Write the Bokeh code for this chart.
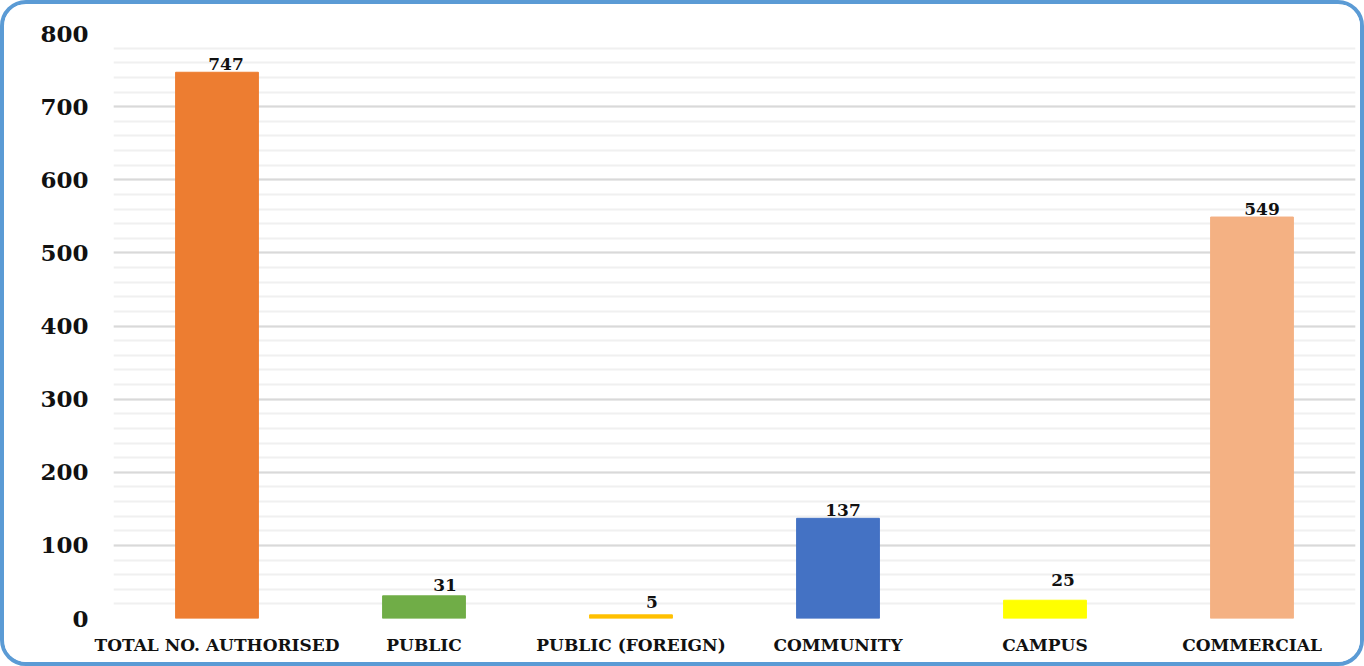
from bokeh.plotting import figure
from bokeh.models import ColumnDataSource, FactorRange, SingleIntervalTicker, Range1d
from bokeh.core.properties import value
from bokeh.embed import file_html
from bokeh.resources import INLINE

categories = ["TOTAL NO. AUTHORISED", "PUBLIC", "PUBLIC (FOREIGN)", "COMMUNITY", "CAMPUS", "COMMERCIAL"]
counts = [747, 31, 5, 137, 25, 549]
colors = ["#ED7D31", "#70AD47", "#FFC000", "#4472C4", "#FFFF00", "#F4B183"]
label_dx = [9, 21, 21, 5, 18, 10]
label_dy = [2, 5, 7, 2, 14, 2]
y_ticks = [0, 100, 200, 300, 400, 500, 600, 700, 800]

FONT = "DejaVu Serif"

src = ColumnDataSource(dict(cat=categories, val=counts, color=colors,
                            lab=[str(v) for v in counts], dx=label_dx, dy=[-d for d in label_dy]))

p = figure(x_range=FactorRange(*categories, range_padding=0), y_range=Range1d(0, 800),
           width=1364, height=666, output_backend="svg", toolbar_location=None,
           min_border_left=109, min_border_top=29, min_border_right=13, min_border_bottom=52)
p.styles = {"border": "4px solid #5B9BD5", "border-radius": "26px", "overflow": "hidden"}
p.outline_line_color = None
p.background_fill_color = "white"
p.border_fill_color = "white"

p.vbar(x="cat", top="val", width=0.4, color="color", source=src)
p.text(x="cat", y="val", text="lab", source=src, x_offset="dx", y_offset="dy",
       text_align="center", text_baseline="bottom", text_font=value(FONT),
       text_font_style="bold", text_font_size="17px", text_color="#111111")

p.yaxis.ticker = y_ticks
p.yaxis.minor_tick_line_color = None
p.yaxis.major_tick_line_color = None
p.yaxis.axis_line_color = None
p.yaxis.major_label_text_font = FONT
p.yaxis.major_label_text_font_style = "bold"
p.yaxis.major_label_text_font_size = "23px"
p.yaxis.major_label_text_color = "#111111"
p.yaxis.major_label_standoff = 19

p.xaxis.major_tick_line_color = None
p.xaxis.axis_line_color = None
p.xaxis.major_label_text_font = FONT
p.xaxis.major_label_text_font_style = "bold"
p.xaxis.major_label_text_font_size = "17px"
p.xaxis.major_label_text_color = "#111111"
p.xaxis.major_label_standoff = 10

p.xgrid.grid_line_color = None
p.ygrid.ticker = SingleIntervalTicker(interval=100, num_minor_ticks=5)
p.ygrid.grid_line_color = "#D9D9D9"
p.ygrid.grid_line_width = 2
p.ygrid.minor_grid_line_color = "#F0F0F0"
p.ygrid.minor_grid_line_width = 2

open("out.html", "w").write(file_html(p, INLINE))
